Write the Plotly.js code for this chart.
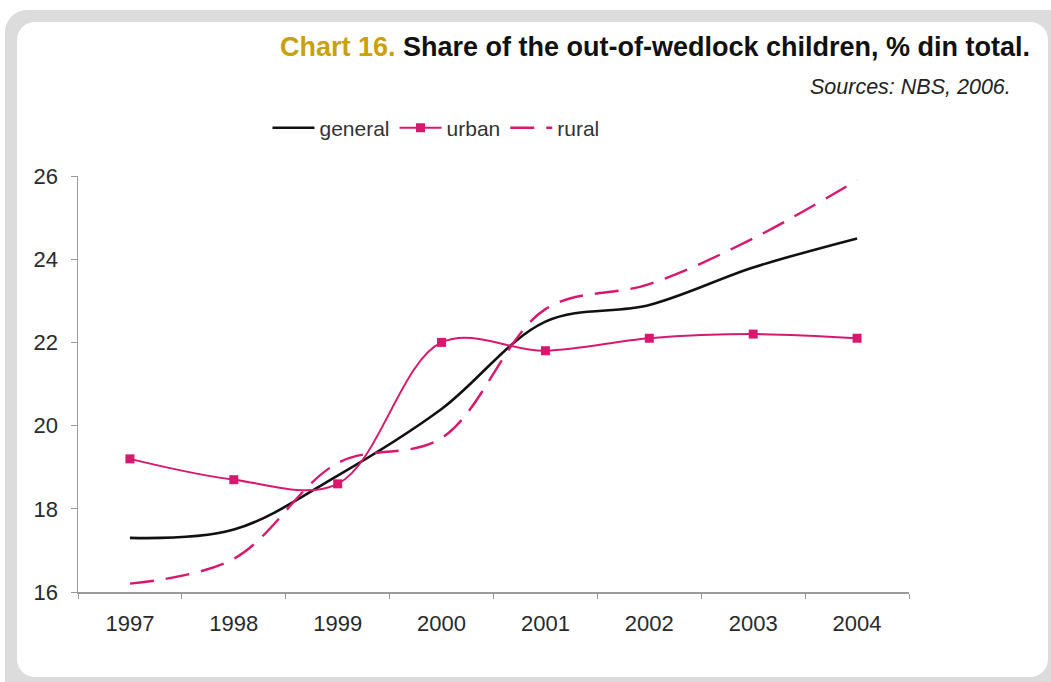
<!DOCTYPE html>
<html>
<head>
<meta charset="utf-8">
<script src="https://cdn.plot.ly/plotly-3.0.1.min.js"></script>
<style>
  html, body { margin: 0; padding: 0; background: #ffffff; }
  #wrap { position: relative; width: 1051px; height: 682px; overflow: hidden; background: #ffffff; }
  #frame { position: absolute; left: 5px; top: 10px; width: 1070px; height: 700px; background: #dcdcdc; border-radius: 22px; }
  #panel { position: absolute; left: 17px; top: 22px; width: 1031px; height: 655px; background: #ffffff; border-radius: 18px; }
  #chart { position: absolute; left: 0; top: 0; width: 1051px; height: 682px; }
</style>
</head>
<body>
<div id="wrap">
  <div id="frame"></div>
  <div id="panel"></div>
  <div id="chart"></div>
</div>
<script>
// Share of out-of-wedlock children, % of total births
const years   = ['1997', '1998', '1999', '2000', '2001', '2002', '2003', '2004'];
const general = [17.3, 17.5, 18.8, 20.4, 22.5, 22.9, 23.8, 24.5];
const urban   = [19.2, 18.7, 18.6, 22.0, 21.8, 22.1, 22.2, 22.1];
const rural   = [16.2, 16.8, 19.1, 19.7, 22.8, 23.4, 24.5, 25.9];
const yTicks  = [16, 18, 20, 22, 24, 26];

const magenta = '#d6186f';
const font = 'Arial, "Liberation Sans", Helvetica, sans-serif';

const traces = [
  {
    x: years, y: general, name: 'general', type: 'scatter', mode: 'lines',
    line: { color: '#111111', width: 2.6, shape: 'spline', smoothing: 1 }
  },
  {
    x: years, y: urban, name: 'urban', type: 'scatter', mode: 'lines+markers',
    line: { color: magenta, width: 2, shape: 'spline', smoothing: 1 },
    marker: { symbol: 'square', size: 9, color: magenta }
  },
  {
    x: years, y: rural, name: 'rural', type: 'scatter', mode: 'lines',
    line: { color: magenta, width: 2.4, shape: 'spline', smoothing: 1, dash: '24px,12px' }
  }
];

const layout = {
  width: 1051, height: 682,
  paper_bgcolor: 'rgba(0,0,0,0)', plot_bgcolor: 'rgba(0,0,0,0)',
  margin: { l: 78, r: 142, t: 176, b: 90 },
  font: { family: font, color: '#333333', size: 21 },
  showlegend: true,
  legend: {
    orientation: 'h', x: 0.228, xanchor: 'left', y: 1.115, yanchor: 'middle',
    font: { family: font, size: 21, color: '#333333' },
    bgcolor: 'rgba(0,0,0,0)', itemwidth: 42, tracegroupgap: 0
  },
  xaxis: {
    type: 'category', range: [-0.5, 7.5],
    showline: true, linecolor: '#9a9a9a', linewidth: 1.5,
    showgrid: false, zeroline: false,
    ticks: 'outside', tickson: 'boundaries', ticklen: 5, tickcolor: '#9a9a9a',
    ticklabelstandoff: 11,
    tickfont: { family: font, size: 22, color: '#2a2a2a' }
  },
  yaxis: {
    range: [16, 26], tickvals: yTicks,
    showline: true, linecolor: '#9a9a9a', linewidth: 1.5,
    showgrid: false, zeroline: false,
    ticks: 'outside', ticklen: 6, tickcolor: '#9a9a9a',
    ticklabelstandoff: 8,
    tickfont: { family: font, size: 22, color: '#2a2a2a' }
  },
  annotations: [
    {
      xref: 'paper', yref: 'paper', x: 1.148, y: 1.31, xanchor: 'right', yanchor: 'middle',
      showarrow: false,
      text: '<b><span style="color:#c9a10a">Chart 16.</span> Share of the out-of-wedlock children, % din total.</b>',
      font: { family: font, size: 27, color: '#111111' }
    },
    {
      xref: 'paper', yref: 'paper', x: 1.125, y: 1.215, xanchor: 'right', yanchor: 'middle',
      showarrow: false,
      text: '<i>Sources: NBS, 2006.</i>',
      font: { family: font, size: 21.5, color: '#222222' }
    }
  ]
};

Plotly.newPlot('chart', traces, layout, { displayModeBar: false, staticPlot: true });
</script>
</body>
</html>
